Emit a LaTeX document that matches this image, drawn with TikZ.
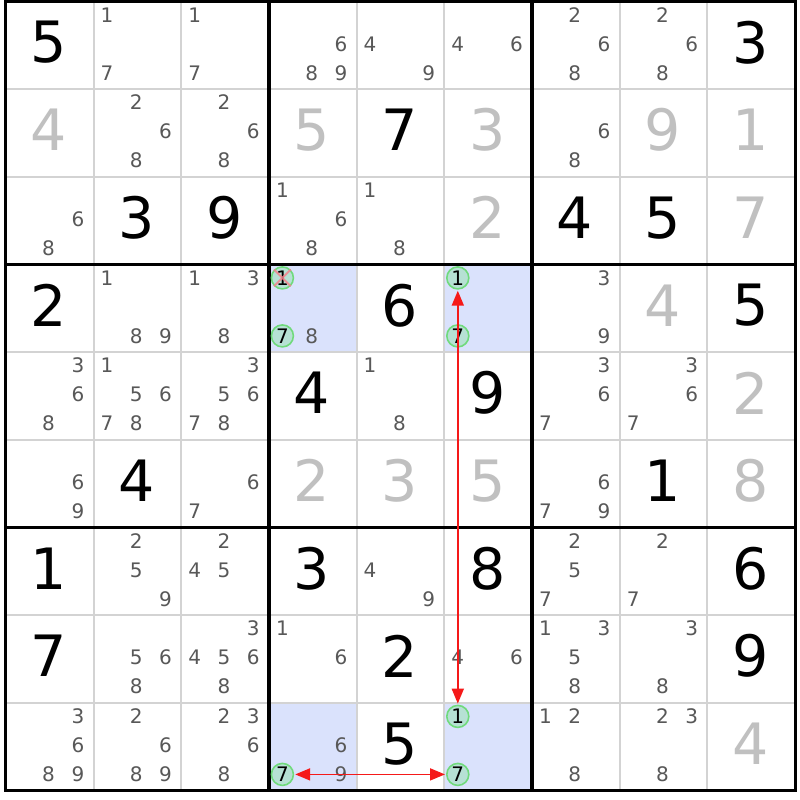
\documentclass[tikz,border=0pt]{standalone}
\usepackage{fontspec}
\setmainfont{DejaVu Sans}
\usetikzlibrary{arrows.meta}
\definecolor{candgray}{RGB}{88,88,88}
\definecolor{solvedgray}{RGB}{192,192,192}
\definecolor{thingray}{RGB}{211,211,211}
\definecolor{hlblue}{RGB}{218,226,252}
\definecolor{circfill}{RGB}{182,225,212}
\definecolor{circdraw}{RGB}{112,218,124}
\definecolor{linkred}{RGB}{245,25,25}
\definecolor{crossred}{RGB}{245,130,140}
\begin{document}
\begin{tikzpicture}[x=1pt,y=-1pt,
  given/.style={font=\fontsize{57}{57}\selectfont, text=black, inner sep=0pt},
  solved/.style={given, text=solvedgray},
  cand/.style={font=\fontsize{20}{20}\selectfont, text=candgray, inner sep=0pt},
  linkcirc/.style={circle, draw=circdraw, line width=1.6pt, fill=circfill, minimum size=22pt, inner sep=0pt, font=\fontsize{20}{20}\selectfont, text=black},
  hl/.style={fill=hlblue},
  thinline/.style={draw=thingray, line width=2pt},
  thickline/.style={draw=black, line width=3.2pt},
  link/.style={draw=linkred, line width=1.8pt, {Triangle[length=15pt,width=12pt]}-{Triangle[length=15pt,width=12pt]}, shorten <=1pt, shorten >=1pt},
  xmark/.style={draw=crossred, line width=2pt, opacity=0.85}
]
\useasboundingbox (0,0) rectangle (800,800);
\fill[white] (0,0) rectangle (800,800);
% highlighted cells
\foreach \r/\c in {3/3,3/5,8/3,8/5}
  \fill[hl] ({5.8+87.7*\c},{1.3+87.7*\r}) rectangle ++(87.7,87.7);
% thin grid
\foreach \i in {1,2,4,5,7,8} {
  \draw[thinline] ({5.8+87.7*\i},1.3) -- ({5.8+87.7*\i},790.6);
  \draw[thinline] (5.8,{1.3+87.7*\i}) -- (795.1,{1.3+87.7*\i});
}
% thick grid
\foreach \i in {3,6} {
  \draw[thickline] ({5.8+87.7*\i},1.3) -- ({5.8+87.7*\i},790.6);
  \draw[thickline] (5.8,{1.3+87.7*\i}) -- (795.1,{1.3+87.7*\i});
}
\draw[thickline] (5.8,1.3) rectangle (795.1,790.6);
% givens
\foreach \r/\c/\d in {0/0/5,0/8/3,1/4/7,2/1/3,2/2/9,2/6/4,2/7/5,3/0/2,3/4/6,3/8/5,4/3/4,4/5/9,5/1/4,5/7/1,6/0/1,6/3/3,6/5/8,6/8/6,7/0/7,7/4/2,7/8/9,8/4/5}
  \node[given] (g\r\c) at ({5.8+87.7*\c+43},{1.3+87.7*\r+41}) {\d};
% solved
\foreach \r/\c/\d in {1/0/4,1/3/5,1/5/3,1/7/9,1/8/1,2/5/2,2/8/7,3/7/4,4/8/2,5/3/2,5/4/3,5/5/5,5/8/8,8/8/4}
  \node[solved] (g\r\c) at ({5.8+87.7*\c+43},{1.3+87.7*\r+41}) {\d};
% candidates
\foreach \r/\c/\L in {0/1/{1,7},0/2/{1,7},0/3/{6,8,9},0/4/{4,9},0/5/{4,6},0/6/{2,6,8},0/7/{2,6,8},
  1/1/{2,6,8},1/2/{2,6,8},1/6/{6,8},
  2/0/{6,8},2/3/{1,6,8},2/4/{1,8},
  3/1/{1,8,9},3/2/{1,3,8},3/3/{8},3/6/{3,9},
  4/0/{3,6,8},4/1/{1,5,6,7,8},4/2/{3,5,6,7,8},4/4/{1,8},4/6/{3,6,7},4/7/{3,6,7},
  5/0/{6,9},5/2/{6,7},5/6/{6,7,9},
  6/1/{2,5,9},6/2/{2,4,5},6/4/{4,9},6/6/{2,5,7},6/7/{2,7},
  7/1/{5,6,8},7/2/{3,4,5,6,8},7/3/{1,6},7/5/{4,6},7/6/{1,3,5,8},7/7/{3,8},
  8/0/{3,6,8,9},8/1/{2,6,8,9},8/2/{2,3,6,8},8/3/{6,9},8/6/{1,2,8},8/7/{2,3,8}} {
  \foreach \d in \L {
    \pgfmathtruncatemacro\cc{mod(\d-1,3)}
    \pgfmathtruncatemacro\rr{(\d-1)/3}
    \node[cand] (n\r\c\d) at ({5.8+87.7*\c+13.5+29.3*\cc},{1.3+87.7*\r+13.5+29*\rr}) {\d};
  }
}
% circled candidates
\foreach \r/\c/\d in {3/3/1,3/3/7,3/5/1,3/5/7,8/3/7,8/5/1,8/5/7} {
  \pgfmathtruncatemacro\cc{mod(\d-1,3)}
  \pgfmathtruncatemacro\rr{(\d-1)/3}
  \node[linkcirc] (n\r\c\d) at ({5.8+87.7*\c+13.5+29.3*\cc},{1.3+87.7*\r+13.5+29*\rr}) {\d};
}
% eliminated
\draw[xmark] (n331.north west) -- (n331.south east) (n331.north east) -- (n331.south west);
% links
\draw[link] (n351) -- (n851);
\draw[link] (n837) -- (n857);
\end{tikzpicture}
\end{document}
